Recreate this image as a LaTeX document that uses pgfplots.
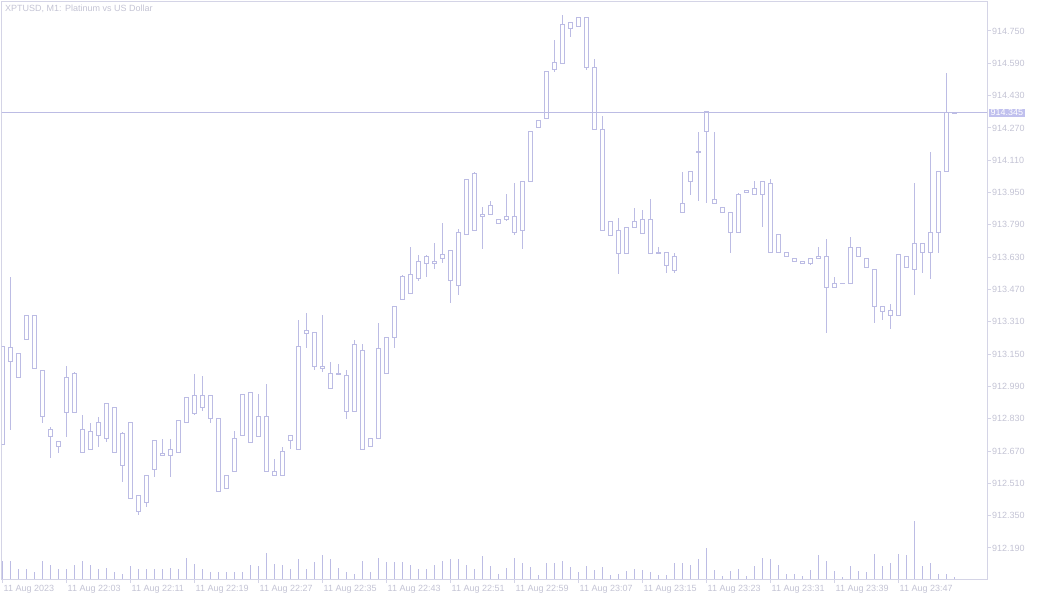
\documentclass[border=0pt]{standalone}
\usepackage{fontspec}
\setmainfont{Liberation Sans}
\usepackage{pgfplots}
\usepackage{pgfplotstable}
\pgfplotsset{compat=1.18}
\usepgfplotslibrary{statistics}
\definecolor{candle}{RGB}{188,188,228}
\definecolor{framec}{RGB}{212,212,230}
\definecolor{txt}{RGB}{195,195,212}
\definecolor{pbox}{RGB}{192,192,238}

% k open high low close volume
\pgfplotstableread{
k o h l c v
0 912.700 913.190 912.700 913.190 18
1 913.185 913.532 912.774 913.111 17.7
2 913.151 913.151 913.032 913.032 10
3 913.220 913.339 913.220 913.339 10
4 913.339 913.339 913.081 913.081 7.3
5 913.071 913.071 912.809 912.839 17.7
6 912.779 912.789 912.636 912.740 14
7 912.715 912.715 912.660 912.690 10
8 912.863 913.091 912.740 913.032 10
9 913.052 913.061 912.863 912.863 14
10 912.779 912.848 912.665 912.665 17.7
11 912.680 912.809 912.680 912.769 14
12 912.749 912.839 912.690 912.809 10
13 912.730 912.903 912.715 912.903 11.3
14 912.888 912.888 912.665 912.665 7.3
15 912.759 912.764 912.517 912.596 5
16 912.809 912.809 912.433 912.433 12.7
17 912.452 912.452 912.353 912.373 10
18 912.413 912.551 912.393 912.551 10
19 912.581 912.720 912.541 912.720 10
20 912.660 912.730 912.650 912.650 10
21 912.650 912.730 912.541 912.680 11.3
22 912.665 912.819 912.665 912.819 10
23 912.809 912.933 912.809 912.933 20.7
24 912.943 913.052 912.848 912.858 15
25 912.888 913.042 912.868 912.943 10
26 912.943 912.943 912.809 912.829 7.3
27 912.829 912.829 912.472 912.472 7.3
28 912.482 912.551 912.482 912.551 7.3
29 912.571 912.769 912.571 912.730 7.3
30 912.749 912.952 912.749 912.952 7.3
31 912.962 912.962 912.710 912.710 14
32 912.740 912.952 912.740 912.839 12.7
33 912.839 913.002 912.571 912.571 26
34 912.571 912.631 912.551 912.551 15
35 912.551 912.690 912.551 912.670 14
36 912.720 912.749 912.680 912.749 10
37 912.680 913.319 912.680 913.190 20
38 913.250 913.354 913.180 913.269 10
39 913.259 913.259 913.071 913.091 16.7
40 913.091 913.344 913.061 913.081 24
41 913.052 913.111 912.982 912.982 20
42 913.050 913.101 913.050 913.052 11.3
43 913.042 913.071 912.829 912.868 7.3
44 912.868 913.220 912.868 913.200 5
45 913.170 913.200 912.680 912.680 17.7
46 912.690 912.730 912.690 912.730 7.3
47 912.730 913.304 912.730 913.180 20.7
48 913.052 913.230 913.052 913.230 16.7
49 913.230 913.388 913.180 913.388 16.7
50 913.418 913.542 913.418 913.532 16.7
51 913.542 913.680 913.448 913.448 14
52 913.522 913.641 913.512 913.611 10
53 913.601 913.641 913.532 913.631 10
54 913.611 913.700 913.571 913.601 14
55 913.621 913.799 913.601 913.641 17.7
56 913.661 913.661 913.403 913.512 20
57 913.492 913.770 913.443 913.750 20
58 913.740 914.017 913.740 914.017 14
59 914.042 914.052 913.760 913.760 10
60 913.829 913.878 913.671 913.839 22.7
61 913.839 913.908 913.839 913.888 12.7
62 913.819 913.819 913.799 913.799 5
63 913.819 913.943 913.809 913.829 11.3
64 913.829 913.997 913.740 913.750 20.7
65 913.760 914.007 913.671 914.007 16
66 914.007 914.250 914.007 914.250 11.7
67 914.270 914.309 914.270 914.309 4
68 914.319 914.547 914.319 914.547 16
69 914.557 914.705 914.547 914.596 16
70 914.587 914.829 914.587 914.780 17.7
71 914.760 914.790 914.720 914.790 11.7
72 914.770 914.819 914.770 914.819 7.3
73 914.819 914.819 914.557 914.567 12.7
74 914.567 914.611 914.260 914.260 9.3
75 914.260 914.329 913.760 913.760 11.7
76 913.735 913.809 913.735 913.809 4
77 913.760 913.824 913.547 913.646 5
78 913.646 913.779 913.646 913.779 8.3
79 913.779 913.874 913.779 913.809 10
80 913.819 913.864 913.745 913.745 9.3
81 913.819 913.918 913.646 913.646 7.3
82 913.651 913.680 913.646 913.646 4
83 913.651 913.651 913.552 913.591 4
84 913.562 913.651 913.552 913.631 16
85 913.849 914.052 913.849 913.898 16
86 914.007 914.052 913.938 914.052 14.3
87 914.149 914.250 913.908 914.151 20
88 914.250 914.349 913.898 914.349 31
89 913.918 914.250 913.898 913.898 9.3
90 913.878 913.878 913.849 913.849 3.3
91 913.849 913.849 913.651 913.750 8.3
92 913.750 913.948 913.750 913.938 10
93 913.948 913.958 913.948 913.958 3.3
94 913.938 914.007 913.938 913.968 12.7
95 913.938 914.007 913.779 914.007 20.7
96 913.997 914.017 913.651 913.651 20
97 913.740 913.740 913.651 913.651 14
98 913.651 913.651 913.631 913.631 5
99 913.621 913.621 913.611 913.611 5
100 913.611 913.611 913.601 913.601 3.3
101 913.601 913.621 913.591 913.621 9.3
102 913.621 913.680 913.621 913.631 24
103 913.631 913.720 913.255 913.482 17.7
104 913.482 913.532 913.482 913.502 8.3
105 913.500 913.502 913.500 913.502 1.7
106 913.502 913.730 913.502 913.680 12.7
107 913.680 913.680 913.631 913.631 8.3
108 913.621 913.621 913.581 913.581 7.3
109 913.571 913.571 913.304 913.388 25
110 913.388 913.388 913.319 913.359 12.7
111 913.368 913.398 913.274 913.339 16
112 913.339 913.641 913.339 913.641 25
113 913.631 913.631 913.581 913.581 24
114 913.571 913.997 913.443 913.700 58
115 913.700 913.700 913.552 913.651 12.7
116 913.651 914.151 913.522 913.750 16
117 913.750 914.052 913.651 914.052 5
118 914.052 914.542 914.052 914.344 5
119 914.343 914.345 914.343 914.345 1.7
}\candles

\begin{document}
\begin{tikzpicture}[x=1pt,y=1pt]
\useasboundingbox (0,0) rectangle (1040,600);
\pgfplotsset{base/.style={at={(2pt,21pt)}, anchor=south west, width=985pt, height=577pt,
  scale only axis, xmin=-0.0625, xmax=123.06}}
% volumes
\begin{axis}[base, hide axis, ymin=0, ymax=577]
\addplot[candle, ycomb, line width=1pt, mark=none] table[x=k,y=v]{\candles};
\end{axis}
% price candles
\begin{axis}[base, ymin=912.0363, ymax=914.8936,
  clip mode=individual,
  axis line style={framec, line width=1pt},
  tick align=outside, major tick length=4pt,
  tick style={framec, line width=1pt},
  xtick pos=bottom, ytick pos=right, yticklabel pos=right,
  xtick={0,8,...,112},
  xticklabels={11 Aug 2023,11 Aug 22:03,11 Aug 22:11,11 Aug 22:19,11 Aug 22:27,11 Aug 22:35,11 Aug 22:43,11 Aug 22:51,11 Aug 22:59,11 Aug 23:07,11 Aug 23:15,11 Aug 23:23,11 Aug 23:31,11 Aug 23:39,11 Aug 23:47},
  xticklabel style={anchor=north west, inner xsep=1pt, inner ysep=2pt, text=txt, font=\fontsize{9}{10}\selectfont},
  ytick={912.19,912.35,912.51,912.67,912.83,912.99,913.15,913.31,913.47,913.63,913.79,913.95,914.11,914.27,914.43,914.59,914.75},
  yticklabel style={anchor=west, inner xsep=1pt, text=txt, font=\fontsize{9}{10}\selectfont,
    /pgf/number format/.cd, fixed, fixed zerofill, precision=3, 1000 sep={}, assume math mode=true},
  boxplot/draw direction=y,
  boxplot/box extend=0.45,
  boxplot/whisker extend=0,
]
\addplot[candle, line width=1pt] coordinates {(-1,914.345) (125,914.345)};
\pgfplotstablegetrowsof{\candles}
\pgfmathtruncatemacro\lastrow{\pgfplotsretval-1}
\pgfplotsinvokeforeach{0,...,\lastrow}{
  \pgfplotstablegetelem{#1}{o}\of\candles \let\vo\pgfplotsretval
  \pgfplotstablegetelem{#1}{h}\of\candles \let\vh\pgfplotsretval
  \pgfplotstablegetelem{#1}{l}\of\candles \let\vl\pgfplotsretval
  \pgfplotstablegetelem{#1}{c}\of\candles \let\vc\pgfplotsretval
  \pgfmathsetmacro\blo{min(\vo,\vc)}
  \pgfmathsetmacro\bhi{max(\vo,\vc)}
  \edef\temp{\noexpand\addplot[candle, line width=1pt, solid, fill=none,
    boxplot prepared={draw position=#1, lower whisker=\vl, lower quartile=\blo,
      median=\blo, upper quartile=\bhi, upper whisker=\vh}] coordinates {};}
  \temp
}
\node[anchor=north west, inner sep=0pt, text=txt, font=\fontsize{9}{10}\selectfont]
  at ([xshift=3pt,yshift=-3pt]rel axis cs:0,1) {XPTUSD, M1: Platinum vs US Dollar};
\node[anchor=west, fill=pbox, text=white, inner xsep=1.5pt, inner ysep=1pt, font=\fontsize{9}{10}\selectfont]
  at ([xshift=2pt]axis cs:123.06,914.345) {914.345};
\end{axis}
\end{tikzpicture}
\end{document}
